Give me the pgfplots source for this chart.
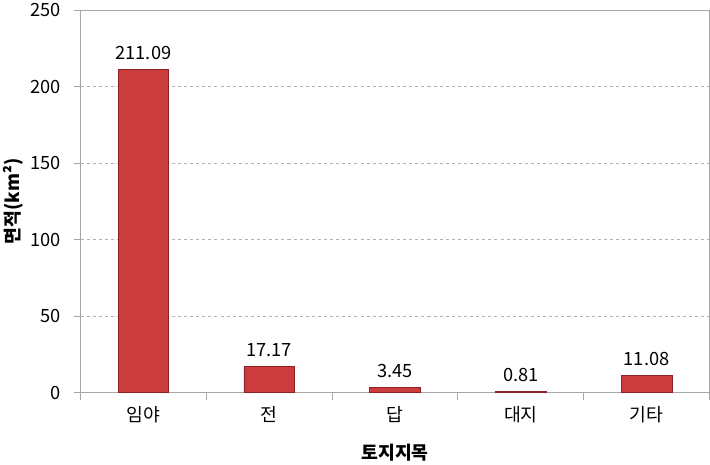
\documentclass[border=0pt]{standalone}
\usepackage{fontspec}
\setmainfont{Noto Sans CJK KR}
\usepackage{pgfplots}
\pgfplotsset{compat=1.18}
\definecolor{barred}{HTML}{CC3B3D}
\definecolor{baredge}{HTML}{8E2022}
\definecolor{axgray}{HTML}{A6A6A6}
\begin{document}
\begin{tikzpicture}
\begin{axis}[
  scale only axis,
  width=620pt, height=377pt,
  xmin=-0.5, xmax=4.5,
  ymin=0, ymax=250,
  ytick={0,50,100,150,200,250},
  xtick={0,1,2,3,4},
  xticklabels={임야,전,답,대지,기타},
  minor xtick={-0.5,0.5,1.5,2.5,3.5,4.5},
  major x tick style={draw=none},
  minor tick length=7pt,
  major tick length=6pt,
  tick align=outside,
  xtick pos=bottom, ytick pos=left,
  tick style={axgray, line width=0.8pt},
  axis line style={axgray, line width=1pt},
  ymajorgrids,
  grid style={dashed, gray!60, line width=0.6pt},
  /pgf/number format/assume math mode=true,
  ticklabel style={font=\fontsize{18}{20}\selectfont},
  yticklabel style={xshift=-10pt},
  xticklabel style={yshift=-4pt},
  xlabel={\textbf{토지지목}},
  ylabel={\textbf{면적(km²)}},
  label style={font=\fontsize{18}{21}\selectfont},
  xlabel style={yshift=-14pt},
  ylabel style={yshift=0pt},
  nodes near coords,
  every node near coord/.append style={font=\fontsize{18}{20}\selectfont, text=black, yshift=6pt},
  point meta=explicit symbolic,
]
\addplot[ybar, bar width=50pt, fill=barred, draw=baredge, line width=0.6pt]
  coordinates {(0,211.09)[211.09] (1,17.17)[17.17] (2,3.45)[3.45] (3,0.81)[0.81] (4,11.08)[11.08]};
\end{axis}
\end{tikzpicture}
\end{document}
